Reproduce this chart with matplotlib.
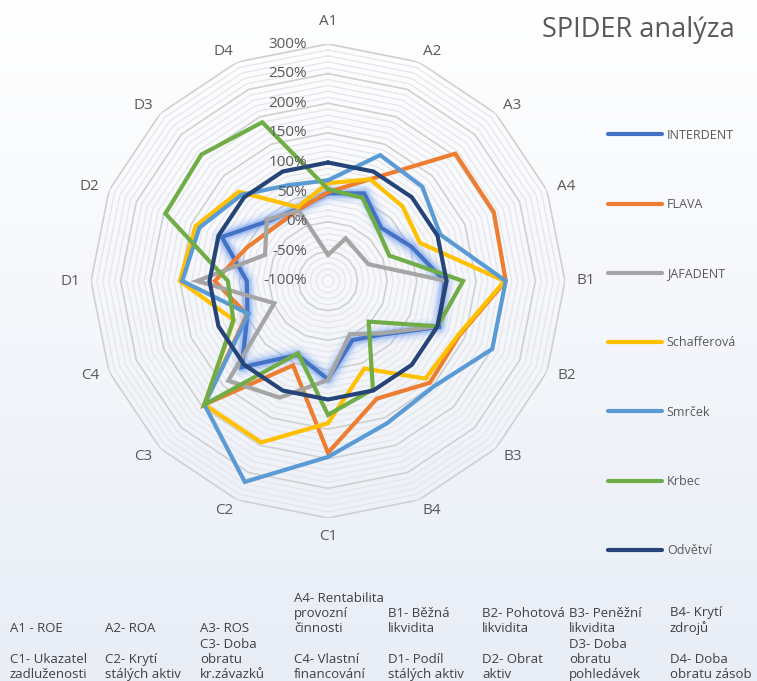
import numpy as np
import matplotlib.pyplot as plt

plt.rcParams['font.family'] = ['Open Sans', 'DejaVu Sans']

# ====== data ======
categories = ["A1", "A2", "A3", "A4", "B1", "B2", "B3", "B4",
              "C1", "C2", "C3", "C4", "D1", "D2", "D3", "D4"]

interdent = [48, 60, 27, 52, 97, 103, 28, 8, 66, 35, 106, 47, 37, 94, 43, 32]
flava = [50, 86, 204, 203, 200, 140, 143, 115, 190, 54, 195, 48, 91, 48, 28, 30]
jafadent = [-56, -22, -30, -26, 100, 100, 25, -3, 67, 113, 138, -2, 121, 15, 46, 29]
schafferova = [65, 86, 78, 68, 198, 138, 133, 60, 140, 195, 195, 72, 150, 142, 113, 35]
smrcek = [70, 130, 125, 105, 200, 200, 152, 160, 197, 267, 195, 45, 146, 135, 106, 75]
krbec = [55, 52, 20, 12, 128, 100, -3, 98, 126, 32, 195, 73, 69, 197, 202, 190]
odvetvi = [100] * 16

series_names = ["INTERDENT", "FLAVA", "JAFADENT", "Schafferová", "Smrček", "Krbec", "Odvětví"]
series_values = [interdent, flava, jafadent, schafferova, smrcek, krbec, odvetvi]
series_colors = ["#4472C4", "#ED7D31", "#A5A5A5", "#FFC000", "#5B9BD5", "#70AD47", "#264478"]

radial_ticks = [-100, -50, 0, 50, 100, 150, 200, 250, 300]

notes_row1 = ["A1 - ROE", "A2- ROA", "A3- ROS", "A4- Rentabilita\nprovozní\nčinnosti",
              "B1- Běžná\nlikvidita", "B2- Pohotová\nlikvidita", "B3- Peněžní\nlikvidita",
              "B4- Krytí\nzdrojů"]
notes_row2 = ["C1- Ukazatel\nzadluženosti", "C2- Krytí\nstálých aktiv", "C3- Doba\nobratu\nkr.závazků",
              "C4- Vlastní\nfinancování", "D1- Podíl\nstálých aktiv", "D2- Obrat\naktiv",
              "D3- Doba\nobratu\npohledávek", "D4- Doba\nobratu zásob"]
notes_x = [10, 105, 200, 294, 388, 482, 569, 670]

# ====== figure ======
W, H = 757, 681
fig = plt.figure(figsize=(W / 100, H / 100), dpi=100)

# background gradient (white -> light blue grey)
bg = fig.add_axes([0, 0, 1, 1], zorder=-1)
t = np.linspace(0, 1, 256)[:, None, None]
top = np.array([1.0, 1.0, 1.0])
bottom = np.array([0.91, 0.93, 0.965])
bg.imshow(top + (bottom - top) * t, aspect="auto", extent=[0, 1, 0, 1])
bg.axis("off")

# radar axes
cx, cy, R = 328, 281, 237
ax = fig.add_axes([(cx - R) / W, 1 - (cy + R) / H, 2 * R / W, 2 * R / H], projection="polar")
ax.set_theta_offset(np.pi / 2)
ax.set_theta_direction(-1)
ax.set_ylim(-100, 300)
ax.set_xticks([])
ax.set_yticks([])
ax.grid(False)
ax.spines["polar"].set_visible(False)
ax.patch.set_alpha(0)

angles = np.linspace(0, 2 * np.pi, len(categories), endpoint=False)
closed = np.append(angles, angles[0])

# polygon gridlines
for lev in np.arange(-90, 301, 10):
    if lev % 50 == 0:
        ax.plot(closed, [lev] * len(closed), color="#D0D0D0", lw=1.2, zorder=1)
    else:
        ax.plot(closed, [lev] * len(closed), color="#E6E6EA", lw=0.9, zorder=1)

# glow under INTERDENT
vals = np.append(interdent, interdent[0])
for lw, a in [(15, 0.08), (11, 0.12), (8, 0.2), (6, 0.3)]:
    ax.plot(closed, vals, color="#6F9DF0", lw=lw, alpha=a, solid_joinstyle="round", zorder=2)

handles = []
for name, values, col in zip(series_names, series_values, series_colors):
    vals = np.append(values, values[0])
    line, = ax.plot(closed, vals, color=col, lw=3, solid_joinstyle="miter",
                    solid_capstyle="round", label=name, zorder=3)
    handles.append(line)

# category labels, anchored just outside the outer ring
for ang, cat in zip(angles, categories):
    s = np.sin(ang)
    c = np.cos(ang)
    ha = "left" if s > 0.01 else ("right" if s < -0.01 else "center")
    va = "bottom" if c > 0.99 else ("top" if c < -0.99 else "center")
    r_px = 252 if c > 0.99 else 248
    ax.text(ang, r_px / R * 400 - 100, cat, ha=ha, va=va, fontsize=11, color="#595959")

# radial value labels
for v in radial_ticks:
    ax.annotate(f"{v}%", xy=(0, v), xytext=(-15, 0), textcoords="offset points",
                ha="right", va="center", fontsize=11, color="#595959", zorder=10)

# title
fig.text(735 / W, 1 - 30 / H, "SPIDER analýza", ha="right", va="center",
         fontsize=19.5, color="#595959")

# legend
fig.legend(handles, series_names, loc="center left", bbox_to_anchor=(608 / W, 1 - 343 / H),
           frameon=False, labelspacing=4.5, handlelength=4.3, handletextpad=0.4,
           fontsize=9, labelcolor="#595959", borderpad=0, borderaxespad=0)

# notes under the chart
for x, s in zip(notes_x, notes_row1):
    fig.text(x / W, 1 - 635 / H, s, ha="left", va="bottom", fontsize=9.5,
             color="#404040", linespacing=1.22)
for x, s in zip(notes_x, notes_row2):
    fig.text(x / W, 1 - 681 / H, s, ha="left", va="bottom", fontsize=9.5,
             color="#404040", linespacing=1.22)

fig.savefig("out.png", dpi=100)
